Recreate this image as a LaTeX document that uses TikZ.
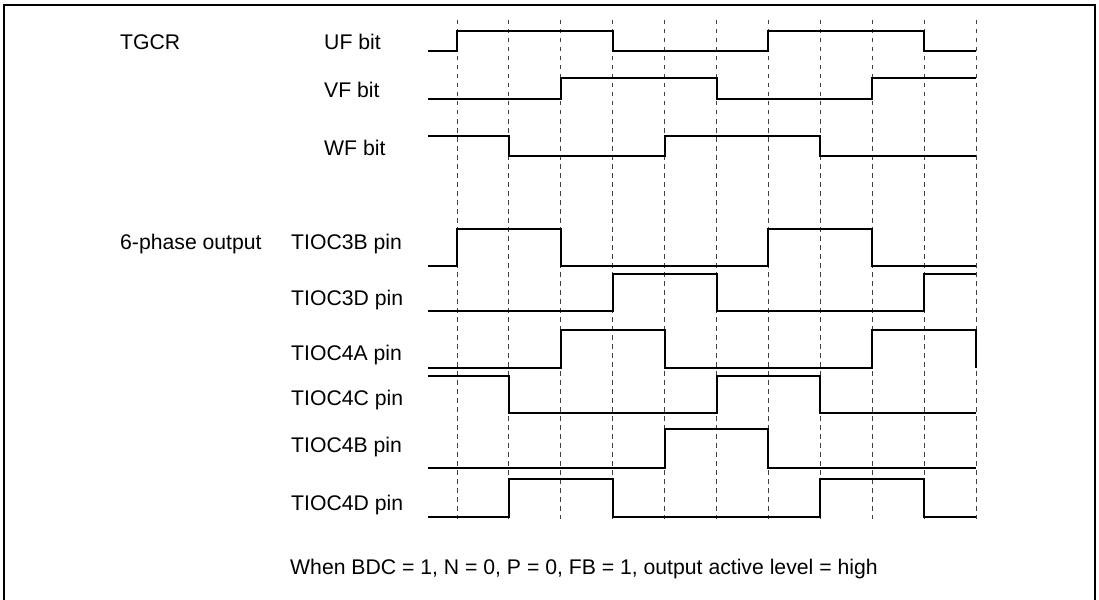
\documentclass[tikz,border=0pt]{standalone}
\usepackage{fontspec}
\setmainfont{Liberation Sans}
\begin{document}
\begin{tikzpicture}[x=1pt,y=-1pt,
  frame/.style={line width=2pt},
  grid/.style={line width=0.9pt, dash pattern=on 4.5pt off 4.5pt, black!75},
  sig/.style={line width=2pt, line join=miter},
  lbl/.style={anchor=base west, inner sep=0pt, font=\fontsize{21.2}{24}\selectfont}]
\useasboundingbox (0,0) rectangle (1099,599);
% frame (bottom edge cut off)
\draw[frame] (4,605) -- (4,5) -- (1095,5) -- (1095,605);
% time grid
\foreach \i in {0,...,10}{
  \draw[grid] ({457+51.9*\i},20) -- ({457+51.9*\i},519);
}
% labels
\node[lbl] (tgcr) at (120,49.5) {TGCR};
\node[lbl] (uf) at (324,49.5) {UF bit};
\node[lbl] (vf) at (324,97.5) {VF bit};
\node[lbl] (wf) at (324,155) {WF bit};
\node[lbl] (six) at (120,249) {6-phase output};
\node[lbl] (t3b) at (291,249) {TIOC3B pin};
\node[lbl] (t3d) at (291,305.7) {TIOC3D pin};
\node[lbl] (t4a) at (291,360.7) {TIOC4A pin};
\node[lbl] (t4c) at (291,405.7) {TIOC4C pin};
\node[lbl] (t4b) at (291,452.3) {TIOC4B pin};
\node[lbl] (t4d) at (291,510.7) {TIOC4D pin};
\node[lbl] (note) at (290,574) {When BDC = 1, N = 0, P = 0, FB = 1, output active level = high};
% waveforms
\draw[sig] (428,51)--(457,51)--(457,31)--(612.7,31)--(612.7,51)--(768.4,51)--(768.4,31)--(924.1,31)--(924.1,51)--(976,51);
\draw[sig] (428,99)--(560.8,99)--(560.8,78)--(716.5,78)--(716.5,99)--(872.2,99)--(872.2,78)--(976,78);
\draw[sig] (428,136)--(508.9,136)--(508.9,156)--(664.6,156)--(664.6,136)--(820.3,136)--(820.3,156)--(976,156);
\draw[sig] (428,266)--(457,266)--(457,229)--(560.8,229)--(560.8,266)--(768.4,266)--(768.4,229)--(872.2,229)--(872.2,266)--(976,266);
\draw[sig] (428,311)--(612.7,311)--(612.7,274)--(716.5,274)--(716.5,311)--(924.1,311)--(924.1,274)--(976,274);
\draw[sig] (428,368)--(560.8,368)--(560.8,330)--(664.6,330)--(664.6,368)--(872.2,368)--(872.2,330)--(976,330)--(976,368);
\draw[sig] (428,376)--(508.9,376)--(508.9,413)--(716.5,413)--(716.5,376)--(820.3,376)--(820.3,413)--(976,413);
\draw[sig] (428,468)--(664.6,468)--(664.6,429)--(768.4,429)--(768.4,468)--(976,468);
\draw[sig] (428,517)--(508.9,517)--(508.9,479)--(612.7,479)--(612.7,517)--(820.3,517)--(820.3,479)--(924.1,479)--(924.1,517)--(976,517);
\end{tikzpicture}
\end{document}
